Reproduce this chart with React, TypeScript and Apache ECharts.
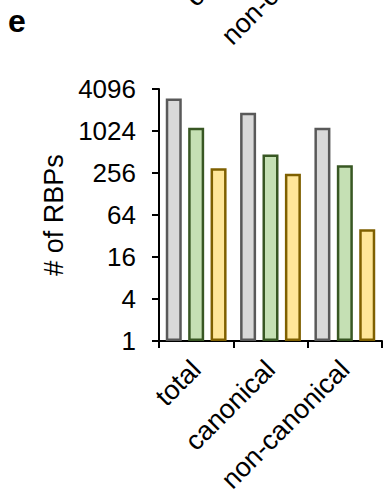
import React, { useEffect, useRef } from "react";
import * as echarts from "echarts";

const categories = ["total", "canonical", "non-canonical"];
const grayValues = [3000, 1870, 1140];
const greenValues = [1140, 470, 330];
const yellowValues = [300, 250, 40];
const yTicks = [1, 4, 16, 64, 256, 1024, 4096];
const topCutLabels = ["canonical", "non-canonical"];

const FONT = "Liberation Sans, Arial, sans-serif";

export default function App() {
  const ref = useRef<HTMLDivElement>(null);
  useEffect(() => {
    if (!ref.current) return;
    const chart = echarts.init(ref.current, null, { renderer: "svg" });
    const gridLeft = 159;
    const gridRight = 1;
    const width = 383;
    const plotW = width - gridLeft - gridRight;
    const catW = plotW / categories.length;
    const axisY = 341;
    const labelMargin = 24;
    const shift = 444;
    const mkBar = (name: string, data: number[], fill: string, border: string) => ({
      name,
      type: "bar",
      data,
      barWidth: 16,
      barGap: "40%",
      itemStyle: { color: fill, borderColor: border, borderWidth: 2.5 },
    });
    chart.setOption({
      animation: false,
      grid: {
        left: gridLeft,
        right: gridRight,
        top: 89,
        bottom: 498 - axisY,
        containLabel: false,
        outerBoundsMode: "none",
      },
      xAxis: {
        type: "category",
        data: categories,
        axisLine: { show: true, lineStyle: { color: "#000", width: 2 } },
        axisTick: { show: true, length: 7, lineStyle: { color: "#000", width: 2 } },
        axisLabel: {
          rotate: 45,
          margin: labelMargin,
          color: "#000",
          fontSize: 27,
          fontFamily: FONT,
          interval: 0,
        },
      },
      yAxis: {
        type: "log",
        logBase: 4,
        min: 1,
        max: 4096,
        splitNumber: 6,
        name: "# of RBPs",
        nameLocation: "middle",
        nameGap: 83,
        nameTextStyle: { color: "#000", fontSize: 27, fontFamily: FONT },
        axisLine: { show: true, lineStyle: { color: "#000", width: 2 } },
        axisTick: { show: true, length: 7, lineStyle: { color: "#000", width: 2 } },
        splitLine: { show: false },
        axisLabel: {
          margin: 23,
          color: "#000",
          fontSize: 26,
          fontFamily: FONT,
          formatter: (v: number) => {
            const r = Math.round(v);
            return yTicks.includes(r) ? String(r) : "";
          },
        },
      },
      series: [
        mkBar("all", grayValues, "#d9d9d9", "#595959"),
        mkBar("set A", greenValues, "#c5e0b4", "#385723"),
        mkBar("set B", yellowValues, "#ffe699", "#7f6000"),
      ],
      graphic: [
        {
          type: "text",
          left: 8,
          top: 5,
          style: { text: "e", fontSize: 32, fontWeight: "bold", fontFamily: FONT, fill: "#000" },
        },
        ...topCutLabels.map((t) => {
          const idx = categories.indexOf(t);
          return {
            type: "text",
            x: gridLeft + catW * (idx + 0.5),
            y: axisY + labelMargin - shift,
            rotation: Math.PI / 4,
            style: {
              text: t,
              fontSize: 27,
              fontFamily: FONT,
              fill: "#000",
              textAlign: "right",
              textVerticalAlign: "middle",
            },
          };
        }),
      ],
    });
    return () => chart.dispose();
  }, []);
  return (
    <div
      ref={ref}
      style={{ position: "absolute", left: 0, top: 0, width: 383, height: 498 }}
    />
  );
}
